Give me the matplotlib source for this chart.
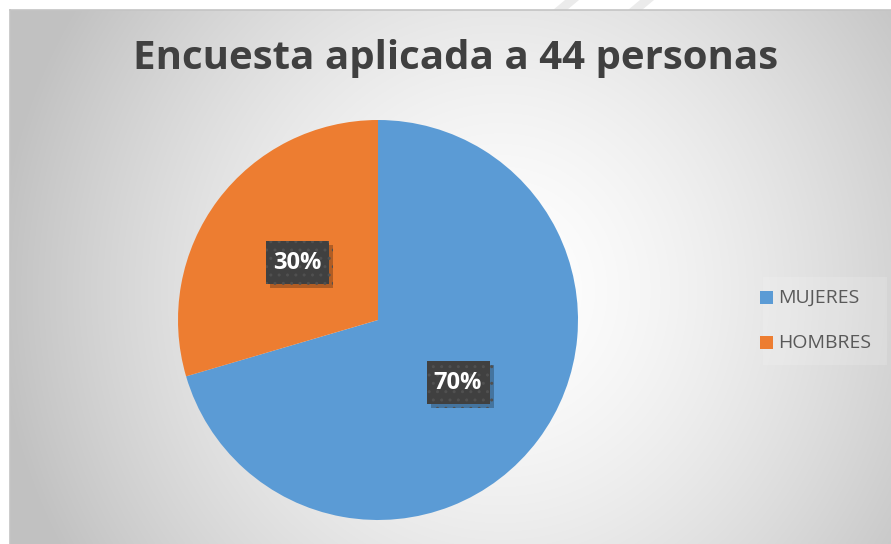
import numpy as np
import matplotlib
matplotlib.use("Agg")
import matplotlib.pyplot as plt
import matplotlib.patheffects as pe

# data
categories = ["MUJERES", "HOMBRES"]
counts = [31, 13]
colors = ["#5b9bd5", "#ed7d31"]
title = "Encuesta aplicada a 44 personas"

W, H = 891, 544
fig = plt.figure(figsize=(W / 100, H / 100), dpi=100)

# background: white page + radial gray gradient chart area
bg = fig.add_axes([0, 0, 1, 1])
bg.set_xlim(0, W)
bg.set_ylim(H, 0)
bg.axis("off")
yy, xx = np.mgrid[0:H, 0:W]
d = np.sqrt(((xx - 500) / 430.0) ** 2 + ((yy - 290) / 450.0) ** 2)
g = np.clip(1.0 - 0.19 * d ** 1.5, 0.76, 1.0)
img = np.dstack([g, g, g])
img[:10, :, :] = 1.0
img[:, :10, :] = 1.0
bg.imshow(img, extent=(0, W, H, 0), aspect="auto", interpolation="bilinear")
# faint slide stripes at top right
for x0 in (565, 640):
    bg.fill([x0, x0 + 14, x0 + 2, x0 - 12], [0, 0, 10, 10], color="#ebebeb", lw=0)
bg.plot([10, W], [10, 10], color="#c4c4c4", lw=1.2)
bg.plot([10, 10], [10, H], color="#c4c4c4", lw=1.2)

# legend backdrop
bg.add_patch(plt.Rectangle((763, 277), 124, 88, color="white", alpha=0.15, lw=0))

# pie
cx, cy, r = 378, 320, 200
ax = fig.add_axes([(cx - r) / W, 1 - (cy + r) / H, 2 * r / W, 2 * r / H])
wedges, _ = ax.pie(counts, colors=colors, startangle=90, counterclock=False,
                   wedgeprops=dict(linewidth=0))
ax.set_xlim(-1, 1)
ax.set_ylim(-1, 1)
ax.set_aspect("equal")

# overlay for data labels (drawn above the pie)
top = fig.add_axes([0, 0, 1, 1])
top.set_xlim(0, W)
top.set_ylim(H, 0)
top.axis("off")
top.patch.set_alpha(0)

pct = [round(100 * c / sum(counts)) for c in counts]
label_pos = [(458, 382), (297, 262)]
bw, bh = 63, 43
for p, (lx, ly) in zip(pct, label_pos):
    box = plt.Rectangle((lx - bw / 2, ly - bh / 2), bw, bh, facecolor="#404040",
                        edgecolor="#505050", hatch="..", lw=0, zorder=5)
    box.set_path_effects([
        pe.SimplePatchShadow(offset=(3, -3), shadow_rgbFace="#000000", alpha=0.25),
        pe.Normal()])
    top.add_patch(box)
    top.text(lx, ly + 1, f"{p}%", ha="center", va="center", fontsize=17,
             fontweight="bold", color="white", family="Open Sans", zorder=6)

top.text(456, 58, title, ha="center", va="center", fontsize=29,
         fontweight="bold", color="#404040", family="Open Sans")

# legend
leg_y = [298, 343]
for name, col, y in zip(categories, colors, leg_y):
    top.add_patch(plt.Rectangle((760, y - 7), 13, 13, color=col, lw=0))
    top.text(778, y, name, ha="left", va="center", fontsize=14,
             color="#595959", family="Open Sans")

fig.savefig("out.png", dpi=100)
